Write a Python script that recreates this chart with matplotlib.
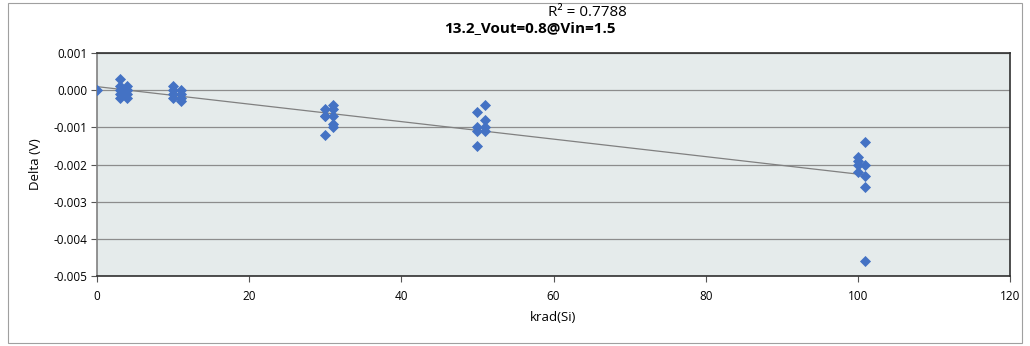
import matplotlib
matplotlib.use("Agg")
import matplotlib.pyplot as plt
import numpy as np
from matplotlib.patches import Rectangle

plt.rcParams['font.family'] = ['Open Sans', 'DejaVu Sans']

# Data (krad(Si), Delta V)
x_0 = [0]
y_0 = [0.0]
x_3 = [3, 3, 3, 3, 3]
y_3 = [0.0003, 0.0001, 0.0, -0.0001, -0.0002]
x_4 = [4, 4, 4, 4, 4]
y_4 = [0.0001, 0.0, 0.0, -0.0001, -0.0002]
x_10 = [10, 10, 10, 10]
y_10 = [0.0001, 0.0, -0.0001, -0.0002]
x_11 = [11, 11, 11, 11]
y_11 = [0.0, -0.0001, -0.0002, -0.0003]
x_30 = [30, 30, 30, 30]
y_30 = [-0.0005, -0.0007, -0.0007, -0.0012]
x_31 = [31, 31, 31, 31, 31]
y_31 = [-0.0004, -0.0005, -0.0007, -0.0009, -0.0010]
x_50 = [50, 50, 50, 50]
y_50 = [-0.0006, -0.0010, -0.0011, -0.0015]
x_51 = [51, 51, 51, 51]
y_51 = [-0.0004, -0.0008, -0.0010, -0.0011]
x_100 = [100, 100, 100, 100]
y_100 = [-0.0018, -0.0019, -0.0020, -0.0022]
x_101 = [101, 101, 101, 101, 101]
y_101 = [-0.0014, -0.0020, -0.0023, -0.0026, -0.0046]

xs = np.array(x_0 + x_3 + x_4 + x_10 + x_11 + x_30 + x_31 + x_50 + x_51 + x_100 + x_101, dtype=float)
ys = np.array(y_0 + y_3 + y_4 + y_10 + y_11 + y_30 + y_31 + y_50 + y_51 + y_100 + y_101)

title = "13.2_Vout=0.8@Vin=1.5"
r2_label = "R² = 0.7788"
x_ticks = [0, 20, 40, 60, 80, 100, 120]
y_ticks = [0.001, 0.0, -0.001, -0.002, -0.003, -0.004, -0.005]

W, H = 1030, 346
fig = plt.figure(figsize=(W / 100, H / 100), dpi=100)
fig.patch.set_facecolor('white')

# outer chart border
fig.add_artist(Rectangle((8 / W, 1 - 343 / H), (1022 - 8) / W, (343 - 3) / H,
                         transform=fig.transFigure, fill=False, edgecolor='#a0a0a0', lw=0.8))

left, right, top, bottom = 97, 1010, 53, 276
ax = fig.add_axes([left / W, 1 - bottom / H, (right - left) / W, (bottom - top) / H])
ax.set_facecolor('#e5ebeb')

ax.set_xlim(0, 120)
ax.set_ylim(-0.005, 0.001)
ax.set_xticks(x_ticks)
ax.set_yticks(y_ticks)
ax.set_xticklabels([str(t) for t in x_ticks], fontsize=8.5)
ax.set_yticklabels([f"{t:.3f}" for t in y_ticks], fontsize=8.5)
ax.yaxis.grid(True, color='#8c8c8c', lw=0.9)
ax.set_axisbelow(True)
ax.tick_params(axis='both', direction='out', length=4, width=0.8, color='#555555', pad=3)
ax.tick_params(axis='x', pad=6)

for side in ['top', 'right', 'bottom']:
    ax.spines[side].set_color('#303030')
    ax.spines[side].set_linewidth(1.2)
ax.spines['left'].set_color('#808080')
ax.spines['left'].set_linewidth(1.2)

# trendline
coef = np.polyfit(xs, ys, 1)
xl = np.array([0, xs.max()])
ax.plot(xl, np.polyval(coef, xl), color='#808080', lw=0.9, zorder=2)

ax.scatter(xs, ys, marker='D', s=32, color='#4472c4', zorder=3, linewidths=0)

ax.set_xlabel("krad(Si)", fontsize=9.5, labelpad=6)
ax.set_ylabel("Delta (V)", fontsize=9.5, labelpad=8)

fig.text(530 / W, 1 - 28 / H, title, ha='center', va='center', fontsize=11, fontweight='bold')
fig.text(548 / W, 1 - 12 / H, r2_label, ha='left', va='center', fontsize=11)

fig.savefig("out.png", dpi=100)
